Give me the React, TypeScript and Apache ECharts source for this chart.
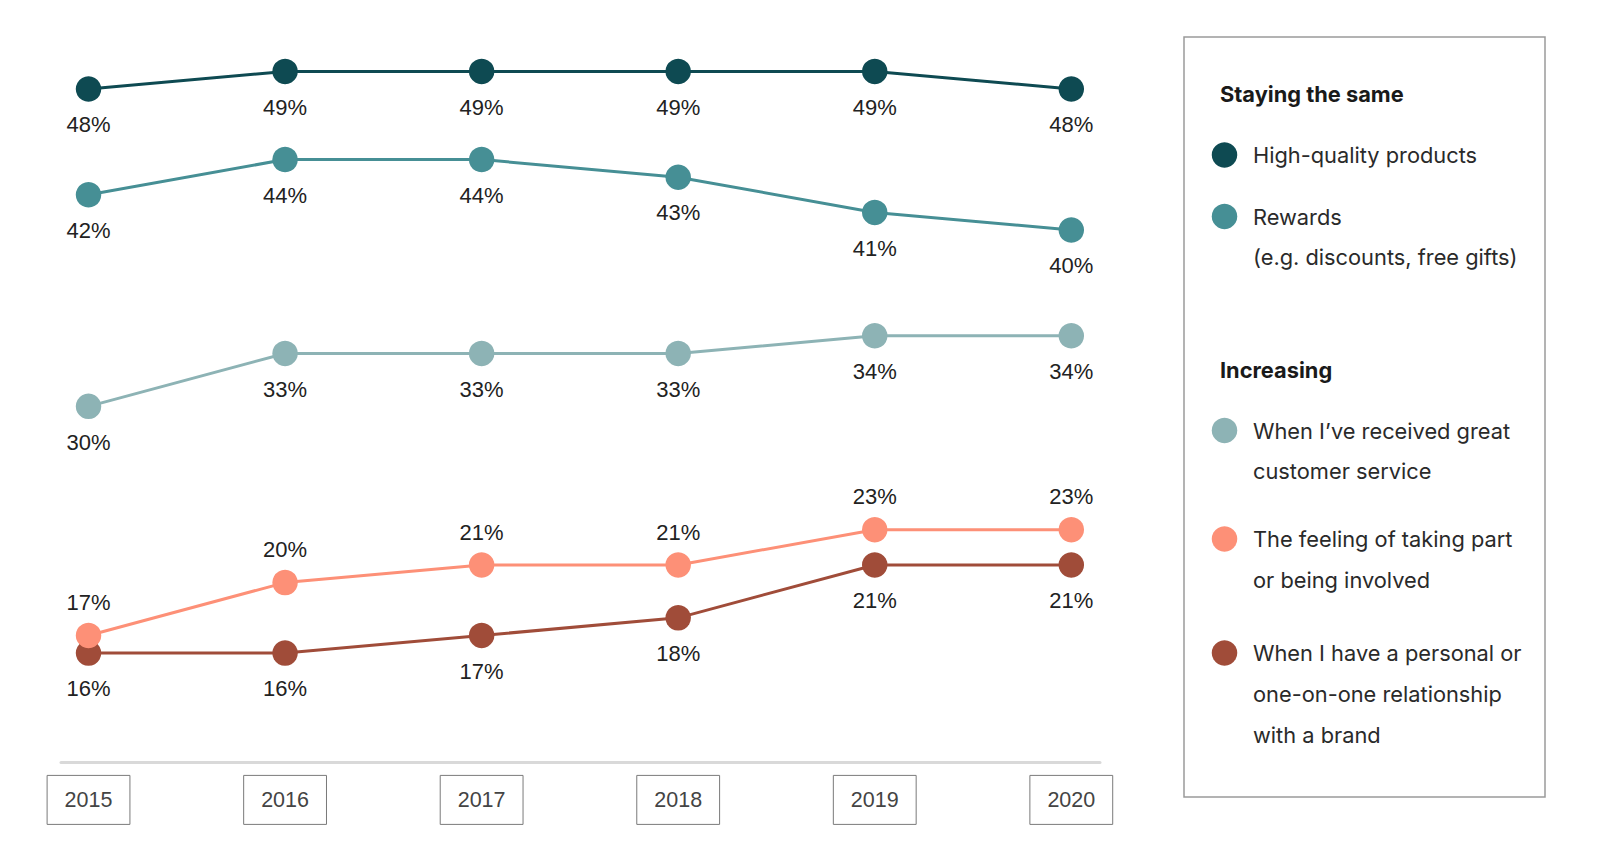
import React, { useEffect, useRef } from "react";
import * as echarts from "echarts";

const years = [2015, 2016, 2017, 2018, 2019, 2020];
const highQuality = [48, 49, 49, 49, 49, 48];
const rewards = [42, 44, 44, 43, 41, 40];
const customerService = [30, 33, 33, 33, 34, 34];
const takingPart = [17, 20, 21, 21, 23, 23];
const personal = [16, 16, 17, 18, 21, 21];

const seriesNames = [
  "High-quality products",
  "Rewards\n(e.g. discounts, free gifts)",
  "When I’ve received great\ncustomer service",
  "The feeling of taking part\nor being involved",
  "When I have a personal or\none-on-one relationship\nwith a brand",
];
const seriesColors = ["#0e4a52", "#468f95", "#8db3b5", "#fd9077", "#a04c39"];
const seriesData = [highQuality, rewards, customerService, takingPart, personal];
const labelPositions = ["bottom", "bottom", "bottom", "top", "bottom"];
const groupTitles = ["Staying the same", "Increasing"];
const groupMembers = [[0, 1], [2, 3, 4]];

const LEGEND_FONT = "Inter, Roboto, sans-serif";
const LABEL_FONT = "Liberation Sans, Arial, sans-serif";

function buildLegend(): any[] {
  const els: any[] = [];
  els.push({
    type: "rect",
    shape: { x: 1184, y: 37, width: 361, height: 760 },
    style: { fill: "#fff", stroke: "#9a9a9a", lineWidth: 1.5 },
  });
  const headY = [94, 369.5];
  const itemY = [[155, 216.5], [430.5, 539, 653]];
  groupTitles.forEach((t, g) => {
    els.push({
      type: "text",
      style: {
        text: t,
        x: 1220,
        y: headY[g],
        verticalAlign: "middle",
        fontFamily: LEGEND_FONT,
        fontSize: 21.8,
        fontWeight: 700,
        fill: "#1a1a1a",
      },
    });
    groupMembers[g].forEach((si, k) => {
      const y = itemY[g][k];
      els.push({
        type: "circle",
        shape: { cx: 1224.5, cy: y, r: 12.75 },
        style: { fill: seriesColors[si] },
      });
      els.push({
        type: "text",
        style: {
          text: seriesNames[si],
          x: 1253,
          y: y - 20.4,
          verticalAlign: "top",
          lineHeight: 40.8,
          fontFamily: LEGEND_FONT,
          fontSize: 21.8,
          fill: "#2a2a2a",
        },
      });
    });
  });
  return els;
}

export default function App() {
  const ref = useRef<HTMLDivElement>(null);
  useEffect(() => {
    if (!ref.current) return;
    const chart = echarts.init(ref.current, null, { renderer: "svg" });
    chart.setOption({
      animation: false,
      backgroundColor: "#ffffff",
      grid: { left: 61, right: 500, top: 53.8, bottom: 105.6, containLabel: false },
      xAxis: {
        type: "value",
        min: 2014.86,
        max: 2020.146,
        splitLine: { show: false },
        axisTick: { show: false },
        axisLine: { show: true, lineStyle: { color: "#d9d9d9", width: 3 } },
        axisLabel: {
          customValues: years,
          formatter: (v: number) => String(v),
          margin: 13,
          fontFamily: LABEL_FONT,
          fontSize: 21.5,
          color: "#444",
          borderColor: "#7a7a7a",
          borderWidth: 1,
          padding: [13.5, 17.5],
          lineHeight: 22,
        },
      },
      yAxis: { type: "value", min: 9.8, max: 50, show: false, splitLine: { show: false } },
      series: seriesData.map((d, i) => ({
        type: "line",
        name: seriesNames[i],
        data: d.map((v, j) => [years[j], v]),
        symbol: "circle",
        symbolSize: 25.5,
        lineStyle: { width: 3, color: seriesColors[i] },
        itemStyle: { color: seriesColors[i] },
        label: {
          show: true,
          position: labelPositions[i],
          distance: labelPositions[i] === "top" ? 9 : 12,
          formatter: (p: any) => p.value[1] + "%",
          fontFamily: LABEL_FONT,
          fontSize: 22,
          color: "#222",
        },
        z: 10 - i,
      })),
      graphic: buildLegend(),
    });
    return () => chart.dispose();
  }, []);
  return (
    <div
      ref={ref}
      style={{ position: "fixed", left: 0, top: 0, width: 1600, height: 868 }}
    />
  );
}
